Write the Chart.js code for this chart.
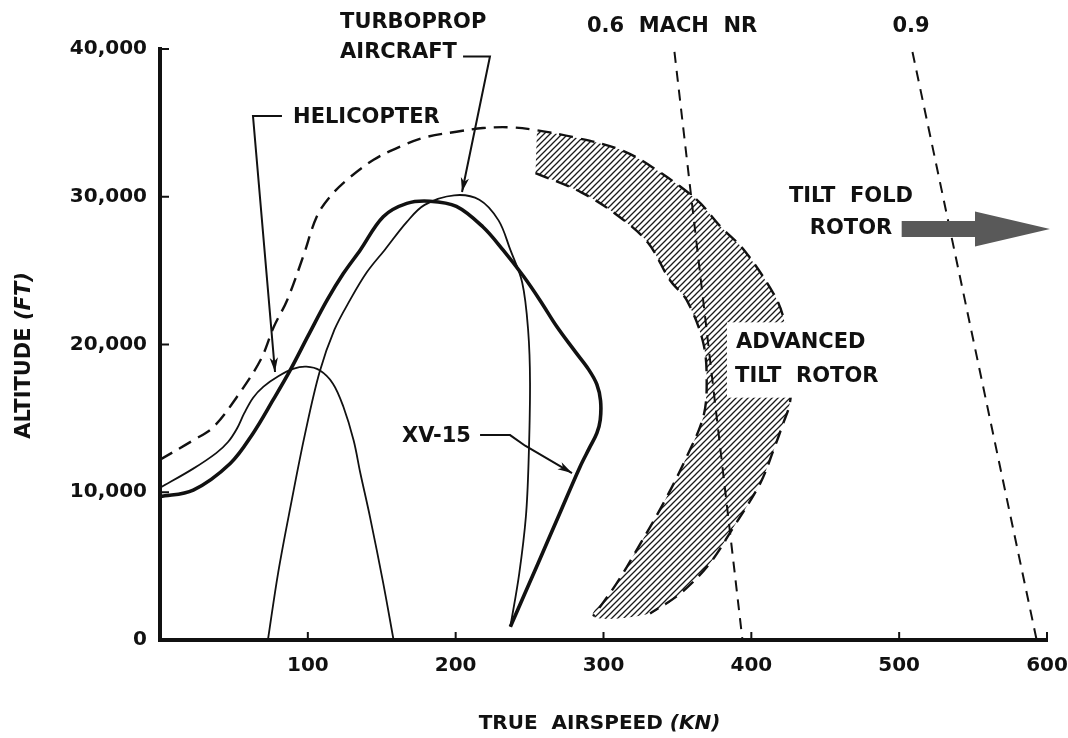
<!DOCTYPE html>
<html lang="en">
<head>
<meta charset="UTF-8">
<title>Altitude vs True Airspeed</title>
<script src="https://cdn.jsdelivr.net/npm/chart.js"></script>
<style>
  html, body { margin: 0; padding: 0; background: #fff; }
</style>
</head>
<body>
<canvas id="chart" width="1068" height="738"></canvas>
<script>
// x = true airspeed (kn), y = altitude (ft)
const speedTicks = [100, 200, 300, 400, 500, 600];
const altitudeTicks = [0, 10000, 20000, 30000, 40000];

const heliSpeed = [0, 22.5, 38, 46, 52, 57, 63, 70, 80, 90, 99, 108, 117, 124, 131, 135.5, 142, 151, 158];
const heliAlt = [10300, 11600, 12650, 13400, 14300, 15350, 16400, 17150, 17850, 18350, 18500, 18250, 17350, 15800, 13500, 11300, 8350, 3850, 0];

const turboSpeed = [73, 80, 89, 98, 108, 118, 128.5, 140, 152, 167, 179, 199, 216, 229, 237, 245, 249, 250.3, 249.3, 247.5, 243, 237];
const turboAlt = [0, 4600, 9400, 13900, 18150, 21000, 23000, 24900, 26400, 28300, 29450, 30100, 29800, 28400, 26400, 24200, 21000, 17400, 12000, 8350, 4500, 900];

const xv15Speed = [0, 22.5, 47.5, 63, 76.5, 88, 100.5, 113, 124, 135.5, 151, 167, 182.5, 200.5, 218.5, 232, 246, 257, 268.5, 281, 290, 295.5, 298, 297.8, 295.5, 290.5, 284, 270, 256, 237];
const xv15Alt = [9700, 10150, 11950, 14000, 16250, 18250, 20650, 23000, 24800, 26400, 28650, 29550, 29700, 29350, 27950, 26400, 24600, 23000, 21200, 19500, 18300, 17300, 16200, 14900, 14000, 13000, 11700, 8480, 5250, 900];

// dashed boundary rising from the left, then running along the outer edge of the band
const envSpeed = [0, 23, 36, 52, 68, 77, 86, 97, 106, 115, 126.5, 144.5, 162.5, 180.5, 200.5, 218.5, 237];
const envAlt = [12200, 13550, 14400, 16450, 18950, 21200, 23000, 26000, 28650, 30000, 31150, 32500, 33400, 34050, 34400, 34650, 34700];

const bandOuterSpeed = [255, 279, 311, 333, 363, 379, 395, 415, 421.5, 426, 427.5, 426, 421.5, 415, 406, 388, 372, 352, 331.5];
const bandOuterAlt = [34500, 34050, 33200, 32000, 29800, 28000, 26400, 23450, 21900, 19500, 18000, 16000, 14650, 12850, 10600, 7650, 5200, 3150, 1800];

const bandInnerSpeed = [254, 285, 310, 330, 345, 356.3, 367.5, 369.8, 367.5, 356.3, 340.5, 322.5, 309, 293];
const bandInnerAlt = [31600, 30300, 28700, 26900, 24350, 23000, 20100, 17400, 15100, 12400, 9250, 6100, 3850, 1600];

const mach06Speed = [348, 394];
const mach06Alt = [39800, 0];
const mach09Speed = [509, 593];
const mach09Alt = [39800, 0];

const INK = '#111';
const FONT = '"DejaVu Sans", sans-serif';

const pts = (xs, ys) => xs.map((v, i) => ({x: v, y: ys[i]}));

function hatchPattern() {
    const c = document.createElement('canvas');
    c.width = 6; c.height = 6;
    const g = c.getContext('2d');
    g.strokeStyle = '#1a1a1a';
    g.lineWidth = 1.3;
    g.beginPath();
    g.moveTo(0, 6); g.lineTo(6, 0);
    g.moveTo(-1, 1); g.lineTo(1, -1);
    g.moveTo(5, 7); g.lineTo(7, 5);
    g.stroke();
    return g.createPattern(c, 'repeat');
}

function arrowHead(ctx, x0, y0, x1, y1) {
    const ang = Math.atan2(y1 - y0, x1 - x0), L = 15, w = 0.28;
    ctx.beginPath();
    ctx.moveTo(x1, y1);
    ctx.lineTo(x1 - L * Math.cos(ang - w), y1 - L * Math.sin(ang - w));
    ctx.lineTo(x1 - L * 0.7 * Math.cos(ang), y1 - L * 0.7 * Math.sin(ang));
    ctx.lineTo(x1 - L * Math.cos(ang + w), y1 - L * Math.sin(ang + w));
    ctx.closePath();
    ctx.fill();
}

function mixedText(ctx, parts, cx, cy, size) {
    let total = 0;
    parts.forEach(p => {
        ctx.font = (p[1] ? 'italic ' : '') + 'bold ' + size + 'px ' + FONT;
        total += ctx.measureText(p[0]).width;
    });
    let x = cx - total / 2;
    parts.forEach(p => {
        ctx.font = (p[1] ? 'italic ' : '') + 'bold ' + size + 'px ' + FONT;
        ctx.fillText(p[0], x, cy);
        x += ctx.measureText(p[0]).width;
    });
}

// text notes, placed in data units: [text, speed, altitude, align]
const noteTexts = [
    ['TURBOPROP', 121.8, 41760, 'left'],
    ['AIRCRAFT', 121.8, 39730, 'left'],
    ['HELICOPTER', 90, 35330, 'left'],
    ['XV-15', 163.7, 13740, 'left'],
    ['ADVANCED', 389.6, 20100, 'left'],
    ['TILT  ROTOR', 389, 17800, 'left'],
    ['0.6  MACH  NR', 346.4, 41490, 'center'],
    ['0.9', 508, 41490, 'center'],
    ['TILT  FOLD', 467.4, 29980, 'center'],
    ['ROTOR', 467.4, 27880, 'center']
];

// leader lines ending in an arrow head
const leaders = [
    [[82.5, 35460], [62.9, 35460], [77.8, 18140]],
    [[205, 39500], [223.2, 39500], [204.3, 30320]],
    [[216.5, 13870], [236.8, 13870], [247, 13150], [278.7, 11300]]
];

const notes = {
    id: 'notes',
    afterDatasetsDraw(chart) {
        const {ctx, chartArea: a, scales: {x, y}} = chart;
        const X = v => x.getPixelForValue(v);
        const Y = v => y.getPixelForValue(v);
        ctx.save();

        // inward tick marks
        ctx.strokeStyle = INK;
        ctx.lineWidth = 2;
        ctx.beginPath();
        speedTicks.forEach(v => { ctx.moveTo(X(v), a.bottom); ctx.lineTo(X(v), a.bottom - 8); });
        altitudeTicks.forEach(v => { if (v) { ctx.moveTo(a.left, Y(v)); ctx.lineTo(a.left + 9, Y(v)); } });
        ctx.stroke();

        // white gap in the band behind its label
        ctx.fillStyle = '#fff';
        const bx = X(383.5), by = Y(21500);
        ctx.fillRect(bx, by, X(445) - bx, Y(16400) - by);

        // leaders
        ctx.strokeStyle = INK;
        ctx.fillStyle = INK;
        ctx.lineWidth = 2;
        leaders.forEach(l => {
            ctx.beginPath();
            l.forEach((p, i) => i ? ctx.lineTo(X(p[0]), Y(p[1])) : ctx.moveTo(X(p[0]), Y(p[1])));
            ctx.stroke();
            const p0 = l[l.length - 2], p1 = l[l.length - 1];
            arrowHead(ctx, X(p0[0]), Y(p0[1]), X(p1[0]), Y(p1[1]));
        });

        // tilt fold rotor arrow
        const yc = Y(27820), s0 = X(501.7), s1 = X(551.3), tip = X(602);
        ctx.fillStyle = '#595959';
        ctx.beginPath();
        ctx.moveTo(s0, yc - 8);
        ctx.lineTo(s1, yc - 8);
        ctx.lineTo(s1, yc - 17.5);
        ctx.lineTo(tip, yc);
        ctx.lineTo(s1, yc + 17.5);
        ctx.lineTo(s1, yc + 8);
        ctx.lineTo(s0, yc + 8);
        ctx.closePath();
        ctx.fill();

        // texts
        ctx.fillStyle = INK;
        ctx.textBaseline = 'middle';
        ctx.font = 'bold 21px ' + FONT;
        noteTexts.forEach(t => {
            ctx.textAlign = t[3];
            ctx.fillText(t[0], X(t[1]), Y(t[2]));
        });
        ctx.restore();
    },
    afterDraw(chart) {
        const {ctx, chartArea: a} = chart;
        ctx.save();
        ctx.fillStyle = INK;
        ctx.textBaseline = 'middle';
        ctx.textAlign = 'left';
        mixedText(ctx, [['TRUE  AIRSPEED ', false], ['(KN)', true]], (a.left + a.right) / 2 - 4, a.bottom + 84, 20);
        ctx.translate(25, (a.top + a.bottom) / 2 + 11);
        ctx.rotate(-Math.PI / 2);
        mixedText(ctx, [['ALTITUDE ', false], ['(FT)', true]], 0, 0, 21);
        ctx.restore();
    }
};

const line = (data, width, extra) => Object.assign({
    data: data, showLine: true, fill: false, borderColor: INK, borderWidth: width,
    pointRadius: 0, tension: 0.35
}, extra || {});

const bandPoly = pts(bandOuterSpeed, bandOuterAlt).concat(pts(bandInnerSpeed, bandInnerAlt).reverse());

new Chart(document.getElementById('chart'), {
    type: 'scatter',
    data: {
        datasets: [
            line(pts(xv15Speed, xv15Alt), 3.6, {label: 'XV-15'}),
            line(pts(heliSpeed, heliAlt), 1.8, {label: 'Helicopter'}),
            line(pts(turboSpeed, turboAlt), 1.8, {label: 'Turboprop aircraft'}),
            line(pts(envSpeed.concat(bandOuterSpeed), envAlt.concat(bandOuterAlt)), 2.4, {label: 'Envelope', borderDash: [14, 8]}),
            line(pts(bandInnerSpeed, bandInnerAlt), 2.4, {label: 'Band inner edge', borderDash: [14, 8]}),
            line(pts(mach06Speed, mach06Alt), 2, {label: '0.6 Mach NR', borderDash: [11, 8], tension: 0}),
            line(pts(mach09Speed, mach09Alt), 2, {label: '0.9 Mach', borderDash: [11, 8], tension: 0}),
            {
                label: 'Advanced tilt rotor',
                data: bandPoly,
                showLine: true,
                fill: 'shape',
                backgroundColor: hatchPattern(),
                borderWidth: 0,
                pointRadius: 0,
                tension: 0.3,
                order: 10
            }
        ]
    },
    options: {
        responsive: false,
        animation: false,
        events: [],
        layout: { padding: { top: 49, right: 21, left: 0, bottom: 0 } },
        plugins: { legend: { display: false }, tooltip: { enabled: false } },
        scales: {
            x: {
                type: 'linear',
                min: 0,
                max: 600,
                afterBuildTicks: s => { s.ticks = speedTicks.map(v => ({value: v})); },
                afterFit: s => { s.height = 98; s.paddingRight = 0; s.paddingLeft = 0; },
                ticks: {
                    color: INK,
                    padding: 14,
                    font: { family: FONT, size: 20, weight: 'bold' },
                    callback: v => String(v)
                },
                grid: { drawOnChartArea: false, drawTicks: false },
                border: { color: INK, width: 4 }
            },
            y: {
                type: 'linear',
                min: 0,
                max: 40000,
                afterBuildTicks: s => { s.ticks = altitudeTicks.map(v => ({value: v})); },
                afterFit: s => { s.width = 160; },
                ticks: {
                    color: INK,
                    padding: 13,
                    font: { family: FONT, size: 20, weight: 'bold' },
                    callback: v => v.toLocaleString('en-US')
                },
                grid: { drawOnChartArea: false, drawTicks: false },
                border: { color: INK, width: 4 }
            }
        }
    },
    plugins: [notes]
});
</script>
</body>
</html>
